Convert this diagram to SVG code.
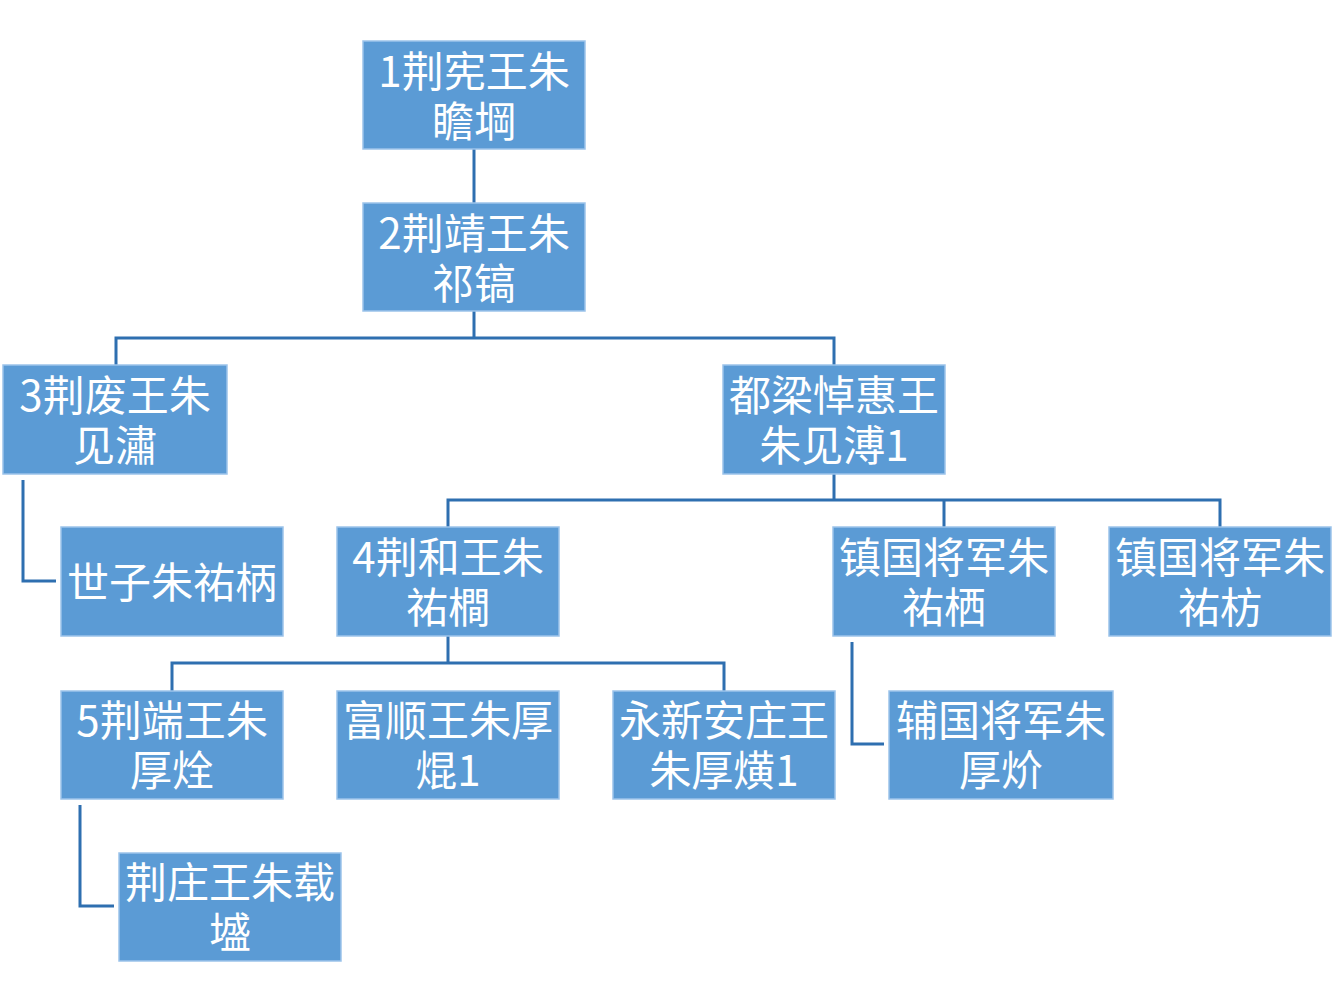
<svg xmlns="http://www.w3.org/2000/svg" width="1334" height="1000" viewBox="0 0 1334 1000">
<style>
.box{fill:#5b9bd5;stroke:#9cc3ea;stroke-width:1.5}
.t{font-family:"Noto Sans CJK SC","Noto Sans",sans-serif;font-size:42px;fill:#ffffff;text-anchor:middle;dominant-baseline:central}
.c{fill:none;stroke:#2e6fb0;stroke-width:3}
</style>
<rect width="1334" height="1000" fill="#ffffff"/>
<g id="connectors">
<path class="c" d="M474 149V203"/>
<path class="c" d="M474 311V338M116 365V338H834V365"/>
<path class="c" d="M834 474V500M448 527V500H1220V527M944 500V527"/>
<path class="c" d="M23 480V581H56"/>
<path class="c" d="M448 636V663M172 691V663H724V691"/>
<path class="c" d="M852 642V744H884"/>
<path class="c" d="M80 805V906H114"/>
</g>
<g id="n1"><rect class="box" x="363" y="41" width="222" height="108"/><text class="t"><tspan x="474" y="68">1荆宪王朱</tspan><tspan x="474" y="118">瞻堈</tspan></text></g>
<g id="n2"><rect class="box" x="363" y="203" width="222" height="108"/><text class="t"><tspan x="474" y="230">2荆靖王朱</tspan><tspan x="474" y="280">祁镐</tspan></text></g>
<g id="n3"><rect class="box" x="3" y="365" width="224" height="109"/><text class="t"><tspan x="115" y="392">3荆废王朱</tspan><tspan x="115" y="442">见潚</tspan></text></g>
<g id="n_duliang"><rect class="box" x="723" y="365" width="222" height="109"/><text class="t"><tspan x="834" y="392">都梁悼惠王</tspan><tspan x="834" y="442">朱见溥1</tspan></text></g>
<g id="n_shizi"><rect class="box" x="61" y="527" width="222" height="109"/><text class="t" x="172" y="579">世子朱祐柄</text></g>
<g id="n4"><rect class="box" x="337" y="527" width="222" height="109"/><text class="t"><tspan x="448" y="554">4荆和王朱</tspan><tspan x="448" y="604">祐橺</tspan></text></g>
<g id="n_zhenguo1"><rect class="box" x="833" y="527" width="222" height="109"/><text class="t"><tspan x="944" y="554">镇国将军朱</tspan><tspan x="944" y="604">祐栖</tspan></text></g>
<g id="n_zhenguo2"><rect class="box" x="1109" y="527" width="222" height="109"/><text class="t"><tspan x="1220" y="554">镇国将军朱</tspan><tspan x="1220" y="604">祐枋</tspan></text></g>
<g id="n5"><rect class="box" x="61" y="691" width="222" height="108"/><text class="t"><tspan x="172" y="717">5荆端王朱</tspan><tspan x="172" y="767">厚烇</tspan></text></g>
<g id="n_fushun"><rect class="box" x="337" y="691" width="222" height="108"/><text class="t"><tspan x="448" y="717">富顺王朱厚</tspan><tspan x="448" y="767">焜1</tspan></text></g>
<g id="n_yongxin"><rect class="box" x="613" y="691" width="222" height="108"/><text class="t"><tspan x="724" y="717">永新安庄王</tspan><tspan x="724" y="767">朱厚熿1</tspan></text></g>
<g id="n_fuguo"><rect class="box" x="889" y="691" width="224" height="108"/><text class="t"><tspan x="1001" y="717">辅国将军朱</tspan><tspan x="1001" y="767">厚炌</tspan></text></g>
<g id="n_jingzhuang"><rect class="box" x="119" y="853" width="222" height="108"/><text class="t"><tspan x="230" y="879">荆庄王朱载</tspan><tspan x="230" y="929">墭</tspan></text></g>
</svg>
